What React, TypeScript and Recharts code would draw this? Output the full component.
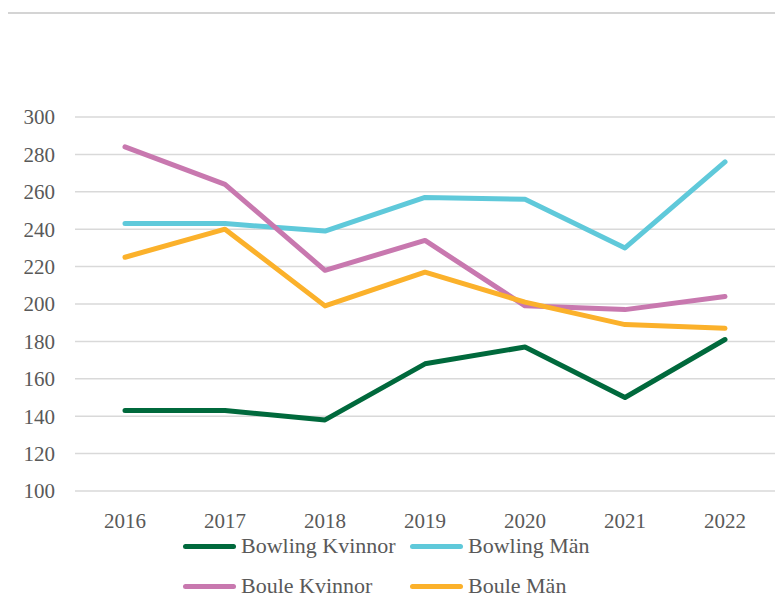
import { LineChart, Line, XAxis, YAxis, CartesianGrid } from 'recharts';

const years = ['2016', '2017', '2018', '2019', '2020', '2021', '2022'];
const bowlingKvinnor = [143, 143, 138, 168, 177, 150, 181];
const bowlingMan = [243, 243, 239, 257, 256, 230, 276];
const bouleKvinnor = [284, 264, 218, 234, 199, 197, 204];
const bouleMan = [225, 240, 199, 217, 201, 189, 187];
const yTicks = [100, 120, 140, 160, 180, 200, 220, 240, 260, 280, 300];

const series = [
  { key: 'Bowling Kvinnor', color: '#00693C' },
  { key: 'Bowling Män', color: '#5FC9DA' },
  { key: 'Boule Kvinnor', color: '#C878AF' },
  { key: 'Boule Män', color: '#FBB12B' },
];

const data = years.map((year, i) => ({
  year,
  'Bowling Kvinnor': bowlingKvinnor[i],
  'Bowling Män': bowlingMan[i],
  'Boule Kvinnor': bouleKvinnor[i],
  'Boule Män': bouleMan[i],
}));

const font = '"Liberation Serif", "Times New Roman", serif';

function LegendBox() {
  return (
    <div
      style={{
        position: 'absolute',
        left: 183,
        top: 535,
        display: 'grid',
        gridTemplateColumns: '227px 227px',
        rowGap: 18,
        fontFamily: font,
        fontSize: 22,
        lineHeight: '22px',
        color: '#595959',
      }}
    >
      {series.map((s) => (
        <div key={s.key} style={{ display: 'flex', alignItems: 'center', height: 22 }}>
          <div style={{ width: 53, height: 5, borderRadius: 3, background: s.color, marginRight: 5 }} />
          <span style={{ whiteSpace: 'nowrap' }}>{s.key}</span>
        </div>
      ))}
    </div>
  );
}

export default function App() {
  return (
    <div style={{ position: 'relative', width: 783, height: 613, margin: -8, background: '#fff', overflow: 'hidden' }}>
      <LineChart width={783} height={613} data={data} margin={{ top: 117, right: 8, left: 0, bottom: 92 }}>
        <CartesianGrid vertical={false} stroke="#d9d9d9" strokeWidth={1.5} />
        <XAxis
          dataKey="year"
          axisLine={false}
          tickLine={false}
          interval={0}
          padding={{ left: 50, right: 50 }}
          tickMargin={16}
          tick={{ fill: '#595959', fontSize: 21, fontFamily: font }}
        />
        <YAxis
          width={75}
          domain={[100, 300]}
          ticks={yTicks}
          interval={0}
          axisLine={false}
          tickLine={false}
          tickMargin={14}
          tick={{ fill: '#595959', fontSize: 21, fontFamily: font }}
        />
        {series.map((s) => (
          <Line
            key={s.key}
            dataKey={s.key}
            stroke={s.color}
            strokeWidth={5}
            strokeLinecap="round"
            strokeLinejoin="round"
            dot={false}
            isAnimationActive={false}
          />
        ))}
      </LineChart>
      <LegendBox />
      <svg width={783} height={613} style={{ position: 'absolute', left: 0, top: 0, pointerEvents: 'none' }}>
        <polyline points="7,613 7,13 776,13 776,613" fill="none" stroke="#d4d4d4" strokeWidth={2} />
      </svg>
    </div>
  );
}
